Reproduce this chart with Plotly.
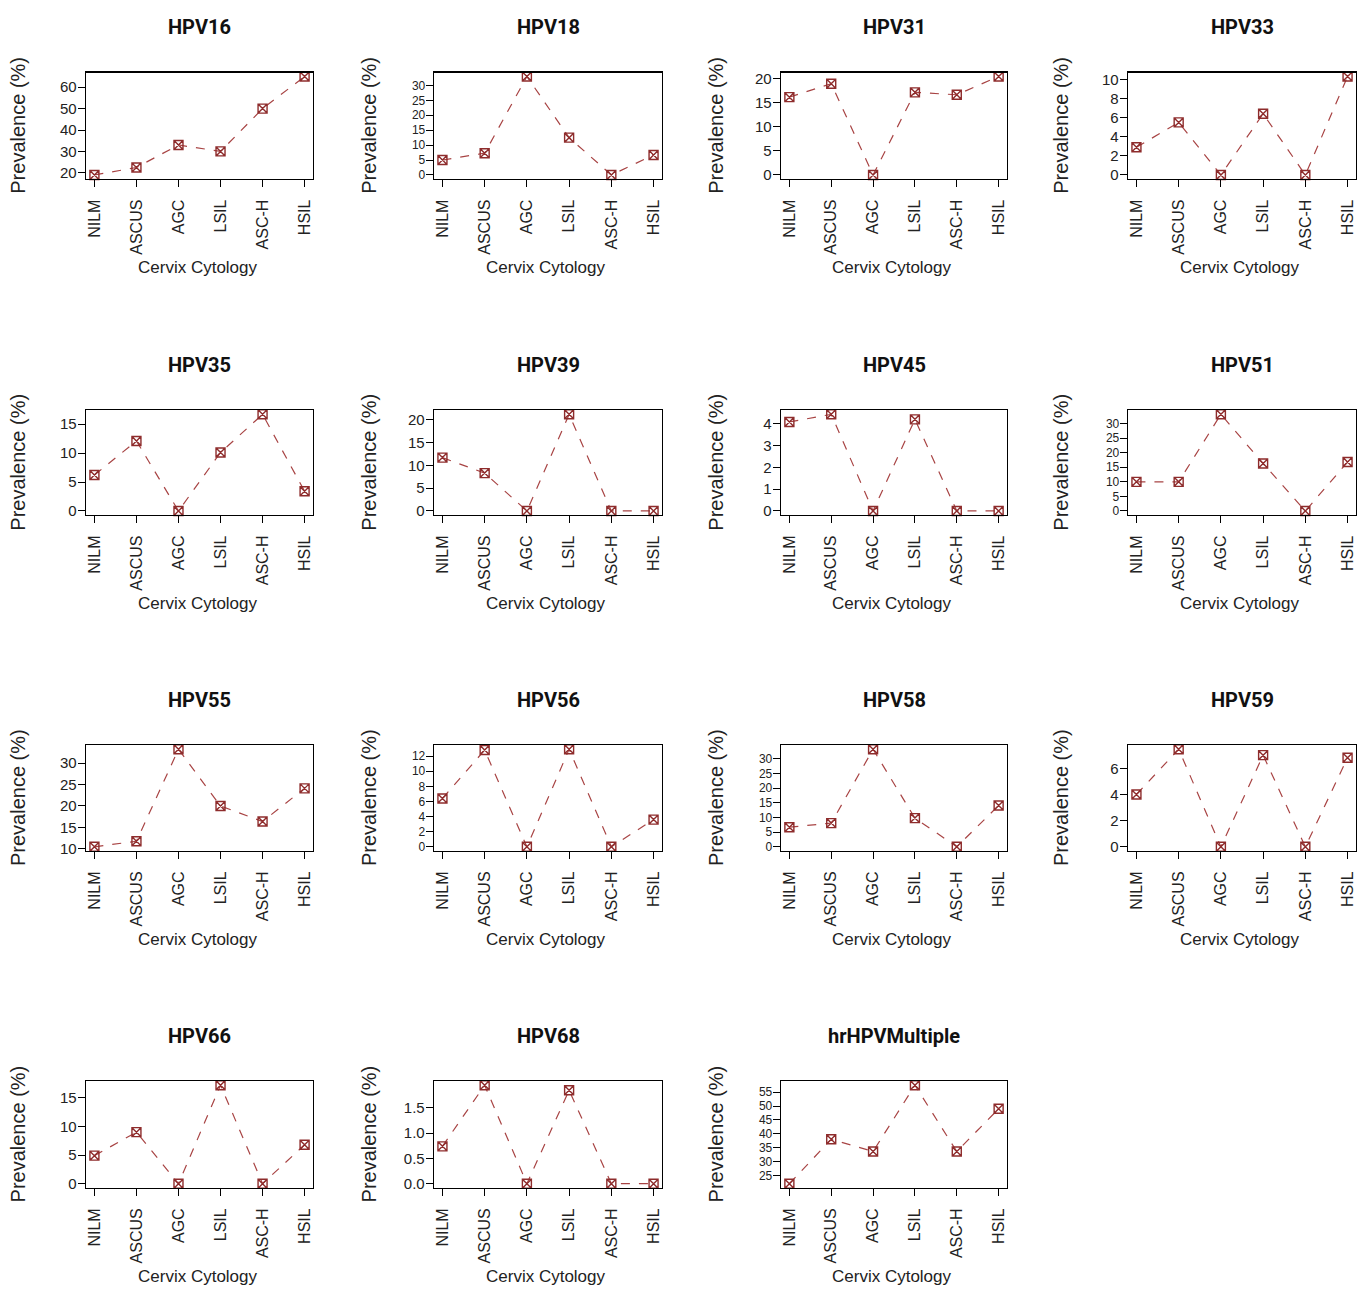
import plotly.graph_objects as go

# ---------------- data ----------------
categories = ["NILM", "ASCUS", "AGC", "LSIL", "ASC-H", "HSIL"]

panel_names = ["HPV16", "HPV18", "HPV31", "HPV33",
               "HPV35", "HPV39", "HPV45", "HPV51",
               "HPV55", "HPV56", "HPV58", "HPV59",
               "HPV66", "HPV68", "hrHPVMultiple"]

hpv16 = [19.0, 22.5, 33.0, 30.0, 50.0, 65.0]
hpv18 = [5.0, 7.3, 33.0, 12.5, 0.0, 6.7]
hpv31 = [16.2, 19.0, 0.0, 17.2, 16.7, 20.5]
hpv33 = [2.9, 5.5, 0.0, 6.4, 0.0, 10.3]
hpv35 = [6.2, 12.1, 0.0, 10.1, 16.7, 3.4]
hpv39 = [11.7, 8.3, 0.0, 21.2, 0.0, 0.0]
hpv45 = [4.08, 4.43, 0.0, 4.2, 0.0, 0.0]
hpv51 = [10.0, 10.0, 33.2, 16.3, 0.0, 16.8]
hpv55 = [10.5, 11.8, 33.2, 20.0, 16.4, 24.1]
hpv56 = [6.4, 12.8, 0.0, 12.9, 0.0, 3.6]
hpv58 = [6.7, 8.1, 33.3, 9.8, 0.0, 14.1]
hpv59 = [4.0, 7.45, 0.0, 7.0, 0.0, 6.8]
hpv66 = [4.9, 9.0, 0.0, 17.2, 0.0, 6.8]
hpv68 = [0.74, 1.95, 0.0, 1.85, 0.0, 0.0]
hr_multiple = [22.0, 38.0, 33.6, 57.5, 33.6, 49.0]

panel_values = [hpv16, hpv18, hpv31, hpv33,
                hpv35, hpv39, hpv45, hpv51,
                hpv55, hpv56, hpv58, hpv59,
                hpv66, hpv68, hr_multiple]

tick_hpv16 = [20, 30, 40, 50, 60]
tick_hpv18 = [0, 5, 10, 15, 20, 25, 30]
tick_hpv31 = [0, 5, 10, 15, 20]
tick_hpv33 = [0, 2, 4, 6, 8, 10]
tick_hpv35 = [0, 5, 10, 15]
tick_hpv39 = [0, 5, 10, 15, 20]
tick_hpv45 = [0, 1, 2, 3, 4]
tick_hpv51 = [0, 5, 10, 15, 20, 25, 30]
tick_hpv55 = [10, 15, 20, 25, 30]
tick_hpv56 = [0, 2, 4, 6, 8, 10, 12]
tick_hpv58 = [0, 5, 10, 15, 20, 25, 30]
tick_hpv59 = [0, 2, 4, 6]
tick_hpv66 = [0, 5, 10, 15]
tick_hpv68 = [0.0, 0.5, 1.0, 1.5]
tick_hr = [25, 30, 35, 40, 45, 50, 55]

panel_ticks = [tick_hpv16, tick_hpv18, tick_hpv31, tick_hpv33,
               tick_hpv35, tick_hpv39, tick_hpv45, tick_hpv51,
               tick_hpv55, tick_hpv56, tick_hpv58, tick_hpv59,
               tick_hpv66, tick_hpv68, tick_hr]

# ---------------- layout geometry (pixels) ----------------
W, H = 1368, 1294
col_left = [86, 434, 781, 1128]
col_right = [313, 662, 1007, 1356]
row_top = [71, 411, 748, 1086]
row_bottom = [178, 516, 854, 1193]
ylab_x = [18, 369, 716, 1061]

LINE_COLOR = "#A84444"
MARK_COLOR = "#8E2C2C"
BASE = "Liberation Sans, Arial, sans-serif"
XTICK_FONT = dict(family=BASE, size=16, color="#222222")
TITLE_FONT = dict(family="Roboto, Liberation Sans, sans-serif", size=20, color="#111111")


def px_x(x):
    return x / W


def px_y(y):
    return 1 - y / H


fig = go.Figure()
annotations = []
layout_axes = {}

for i, (name, vals, ticks) in enumerate(zip(panel_names, panel_values, panel_ticks)):
    r, c = divmod(i, 4)
    idx = i + 1
    xa = "x" if idx == 1 else f"x{idx}"
    ya = "y" if idx == 1 else f"y{idx}"

    fig.add_trace(go.Scatter(
        x=list(range(len(categories))), y=vals,
        mode="lines+markers",
        line=dict(color=LINE_COLOR, width=1.2, dash="dash"),
        marker=dict(symbol="square-x-open", size=9, color=MARK_COLOR,
                    line=dict(color=MARK_COLOR, width=1.4)),
        xaxis=xa, yaxis=ya, showlegend=False, cliponaxis=False,
    ))

    lo, hi = min(vals), max(vals)
    pad = (hi - lo) * 0.04
    ymin, ymax = lo - pad, hi + pad

    # tick label size shrinks when ticks are packed tightly
    plot_h = row_bottom[r] - row_top[r]
    step_px = plot_h * (ticks[1] - ticks[0]) / (ymax - ymin)
    ytick_size = 15 if step_px >= 16 else 12

    xkey = "xaxis" if idx == 1 else f"xaxis{idx}"
    ykey = "yaxis" if idx == 1 else f"yaxis{idx}"
    layout_axes[xkey] = dict(
        domain=[px_x(col_left[c]), px_x(col_right[c])],
        anchor=ya, range=[-0.2, len(categories) - 0.8],
        tickmode="array", tickvals=list(range(len(categories))), ticktext=categories,
        tickangle=-90, ticks="outside", ticklen=7, tickwidth=1, tickcolor="black",
        showline=True, linecolor="black", linewidth=1.3, mirror=True,
        showgrid=False, zeroline=False, tickfont=XTICK_FONT, ticklabelstandoff=6,
        fixedrange=True,
    )
    layout_axes[ykey] = dict(
        domain=[px_y(row_bottom[r]), px_y(row_top[r])],
        anchor=xa, range=[ymin, ymax],
        tickmode="array", tickvals=ticks,
        tickformat=".1f" if name == "HPV68" else "d",
        ticks="outside", ticklen=7, tickwidth=1, tickcolor="black",
        showline=True, linecolor="black", linewidth=1.3, mirror=True,
        showgrid=False, zeroline=False,
        tickfont=dict(family=BASE, size=ytick_size, color="#222222"),
        ticklabelstandoff=-2, fixedrange=True,
    )

    cx = (col_left[c] + col_right[c]) / 2
    cy = (row_top[r] + row_bottom[r]) / 2
    annotations.append(dict(
        text=f"<b>{name}</b>", x=px_x(cx), y=px_y(row_top[r] - 46),
        xref="paper", yref="paper", showarrow=False,
        xanchor="center", yanchor="middle", font=TITLE_FONT,
    ))
    annotations.append(dict(
        text="Cervix Cytology", x=px_x(cx - 2), y=px_y(row_bottom[r] + 89),
        xref="paper", yref="paper", showarrow=False,
        xanchor="center", yanchor="middle", font=dict(family=BASE, size=17, color="#222222"),
    ))
    annotations.append(dict(
        text="Prevalence (%)", x=px_x(ylab_x[c]), y=px_y(cy),
        xref="paper", yref="paper", showarrow=False, textangle=-90,
        xanchor="center", yanchor="middle", font=dict(family=BASE, size=20, color="#222222"),
    ))

fig.update_layout(
    width=W, height=H,
    margin=dict(l=0, r=0, t=0, b=0),
    paper_bgcolor="white", plot_bgcolor="white",
    annotations=annotations,
    **layout_axes,
)

fig.write_html(
    "out.html",
    config={"displayModeBar": False, "staticPlot": True},
    post_script="document.body.style.margin='0';document.body.style.overflow='hidden';",
)
